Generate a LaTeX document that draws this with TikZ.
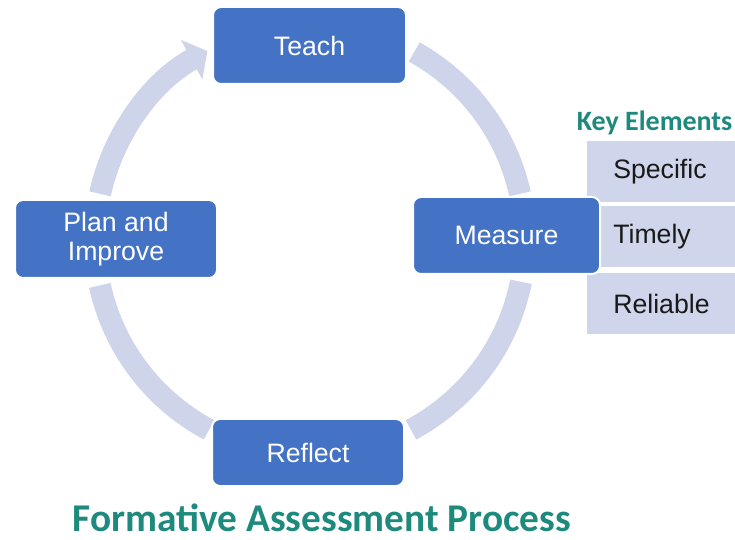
\documentclass[tikz,border=0pt]{standalone}
\usepackage{fontspec}
\setmainfont{Liberation Sans}
\newfontfamily\headfont{Carlito}
\usetikzlibrary{arrows.meta}

\definecolor{boxblue}{RGB}{68,114,196}
\definecolor{ringblue}{RGB}{206,212,234}
\definecolor{cellblue}{RGB}{207,213,234}
\definecolor{headteal}{RGB}{30,138,126}

\newcommand{\ringr}{161.25pt}

\tikzset{
  stage/.style={fill=boxblue, draw=white, line width=1.5pt, rounded corners=6pt,
    text=white, font=\fontsize{20}{22}\selectfont, align=center, inner sep=0pt},
  ring/.style={draw=ringblue, line width=16.5pt},
  cell/.style={fill=cellblue, anchor=north west, minimum height=45.75pt,
    text width=85pt, inner xsep=19.5pt, align=left, text=black!90,
    font=\fontsize{20}{22}\selectfont}
}

\begin{document}
\begin{tikzpicture}[x=0.75pt, y=0.75pt]
    \useasboundingbox (0, 0) rectangle (735, 539);
    \coordinate (hub) at (310, 299);

    % ring pieces between the stages
    \draw[ring] (hub) ++(61:\ringr) arc[start angle=61, end angle=12.4, radius=\ringr];
    \draw[ring] (hub) ++(-11.2:\ringr) arc[start angle=-11.2, end angle=-62, radius=\ringr];
    \draw[ring] (hub) ++(-118:\ringr) arc[start angle=-118, end angle=-167.8, radius=\ringr];
    \draw[ring, -{Triangle[length=13.5pt, width=33pt]}] (hub) ++(167.6:\ringr)
      arc[start angle=167.6, end angle=118.5, radius=\ringr];

    % key elements list
    \node[anchor=east, text=headteal, font=\headfont\bfseries\fontsize{21}{22}\selectfont]
      (keys) at (737, 416) {Key Elements};
    \node[cell] (specific) at (587, 398) {Specific};
    \node[cell] (timely) at (587, 333) {Timely};
    \node[cell] (reliable) at (587, 266) {Reliable};

    % the four stages
    \node[stage, minimum width=144.75pt, minimum height=57.75pt] (teach) at (309.5, 493.5) {Teach};
    \node[stage, minimum width=140.25pt, minimum height=57.75pt] (measure) at (506.5, 303.5) {Measure};
    \node[stage, minimum width=144pt, minimum height=50.25pt] (reflect) at (308, 86.5) {Reflect};
    \node[stage, minimum width=151.5pt, minimum height=58.5pt] (plan) at (116, 300) {Plan and\\Improve};

    \node[anchor=base, text=headteal, font=\headfont\bfseries\fontsize{29.5}{30}\selectfont]
      (title) at (322, 8) {Formative Assessment Process};
\end{tikzpicture}
\end{document}
